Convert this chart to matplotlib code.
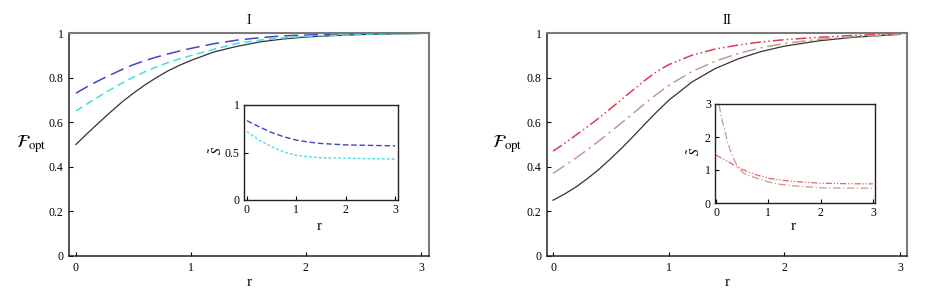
import matplotlib.pyplot as plt

plt.rcParams['font.family'] = 'Liberation Serif'
plt.rcParams['mathtext.fontset'] = 'stix'

# main panels: optimal fidelity vs r
r_main = [0, 0.1, 0.2, 0.3, 0.4, 0.5, 0.6, 0.7, 0.8, 0.9, 1.0,
          1.2, 1.4, 1.6, 1.8, 2.0, 2.3, 2.6, 3.0]
black_I = [0.5, 0.55, 0.598, 0.645, 0.69, 0.73, 0.767, 0.8, 0.83, 0.855, 0.877,
           0.915, 0.94, 0.96, 0.973, 0.982, 0.99, 0.995, 0.998]
blue_I = [0.73, 0.76, 0.787, 0.812, 0.836, 0.858, 0.876, 0.892, 0.906, 0.919, 0.931,
          0.952, 0.968, 0.979, 0.987, 0.991, 0.995, 0.997, 0.999]
cyan_I = [0.65, 0.683, 0.715, 0.746, 0.775, 0.802, 0.826, 0.848, 0.867, 0.884, 0.899,
          0.927, 0.953, 0.968, 0.978, 0.985, 0.991, 0.995, 0.998]
black_II = [0.25, 0.278, 0.31, 0.348, 0.39, 0.437, 0.487, 0.54, 0.595, 0.648, 0.698,
            0.78, 0.84, 0.884, 0.917, 0.941, 0.965, 0.981, 0.994]
red_II = [0.47, 0.505, 0.543, 0.58, 0.62, 0.662, 0.705, 0.748, 0.79, 0.828, 0.858,
          0.9, 0.928, 0.946, 0.96, 0.97, 0.981, 0.989, 0.996]
tan_II = [0.37, 0.405, 0.44, 0.478, 0.517, 0.558, 0.6, 0.643, 0.686, 0.727, 0.765,
          0.827, 0.873, 0.908, 0.934, 0.953, 0.972, 0.984, 0.994]

# insets: S tilde vs r
r_in_I = [0, 0.25, 0.5, 0.75, 1.0, 1.25, 1.5, 2.0, 2.5, 3.0]
blue_S = [0.835, 0.77, 0.71, 0.665, 0.63, 0.61, 0.595, 0.58, 0.575, 0.57]
cyan_S = [0.72, 0.63, 0.56, 0.505, 0.47, 0.455, 0.445, 0.44, 0.435, 0.43]
r_in_red = [0, 0.2, 0.4, 0.6, 0.8, 1.0, 1.25, 1.5, 2.0, 2.5, 3.0]
red_S = [1.45, 1.28, 1.1, 0.95, 0.84, 0.75, 0.69, 0.65, 0.6, 0.585, 0.58]
r_in_tan = [0.06, 0.1, 0.17, 0.22, 0.27, 0.35, 0.43, 0.55, 0.78, 1.0, 1.2, 1.5, 2.0, 2.5, 3.0]
tan_S = [2.97, 2.6, 2.2, 1.85, 1.6, 1.3, 1.05, 0.88, 0.75, 0.64, 0.57, 0.52, 0.46, 0.45, 0.45]

BLUE = '#4444c4'
CYAN = '#44dde6'
RED = '#e23a50'
TAN = '#c49c8c'
W, H = 926, 305


def box(x0, y0, x1, y1):
    return [x0 / W, (H - y1) / H, (x1 - x0) / W, (y1 - y0) / H]


def style_main(ax, title, xlim, ylab_x):
    ax.set_xlim(*xlim)
    ax.set_ylim(0, 1)
    ax.set_xticks([0, 1, 2, 3])
    ax.set_yticks([0, 0.2, 0.4, 0.6, 0.8, 1])
    ax.set_yticklabels(['0', '0.2', '0.4', '0.6', '0.8', '1'])
    ax.tick_params(direction='in', length=3, width=0.8, labelsize=8.5, pad=4)
    for s in ['left', 'bottom']:
        ax.spines[s].set_color('#222222')
        ax.spines[s].set_linewidth(1.1)
    for s in ['top', 'right']:
        ax.spines[s].set_color('#7a7a7a')
        ax.spines[s].set_linewidth(1.5)
    ax.set_ylabel(r'$\mathcal{F}_{\mathrm{opt}}$', rotation=0, fontsize=13,
                  ha='center', va='center')
    ax.yaxis.set_label_coords(ylab_x, 0.5)
    ax.set_xlabel('r', fontsize=11, va='center')
    ax.xaxis.set_label_coords(0.5, -0.121)
    ax.text(0.5, 1.058, title, transform=ax.transAxes, ha='center',
            va='center', fontsize=10)


def style_inset(ax, xlim, ylim, yticks, yticklabels, ylab_x, xlab_y):
    ax.set_xlim(*xlim)
    ax.set_ylim(*ylim)
    ax.set_xticks([0, 1, 2, 3])
    ax.set_yticks(yticks)
    ax.set_yticklabels(yticklabels)
    ax.tick_params(direction='in', length=3, width=0.8, labelsize=8.5, pad=3)
    for s in ax.spines.values():
        s.set_color('#222222')
        s.set_linewidth(1.0)
    ax.set_ylabel(r'$\tilde{S}$', fontsize=10, va='center')
    ax.yaxis.set_label_coords(ylab_x, 0.52)
    ax.set_xlabel('r', fontsize=11, va='center')
    ax.xaxis.set_label_coords(0.49, xlab_y)


fig = plt.figure(figsize=(W / 100, H / 100), dpi=100)

# panel I
ax1 = fig.add_axes(box(69, 33, 429, 256))
ax1.plot(r_main, black_I, color='#333333', lw=0.9)
ax1.plot(r_main, blue_I, color=BLUE, lw=1.1, dashes=(9, 4))
ax1.plot(r_main, cyan_I, color=CYAN, lw=1.1, dashes=(5, 3))
style_main(ax1, 'I', (-0.06, 3.07), -0.105)

in1 = fig.add_axes(box(244, 105, 398, 200))
in1.plot(r_in_I, blue_S, color=BLUE, lw=1.0, dashes=(4, 2))
in1.plot(r_in_I, cyan_S, color=CYAN, lw=1.0, dashes=(2, 1.5))
style_inset(in1, (-0.06, 3.06), (0, 1), [0, 0.5, 1], ['0', '0.5', '1'], -0.177, -0.28)

# panel II
ax2 = fig.add_axes(box(547, 33, 907, 256))
ax2.plot(r_main, black_II, color='#333333', lw=0.9)
ax2.plot(r_main, red_II, color=RED, lw=1.1, dashes=(7, 2, 1, 2, 1, 2))
ax2.plot(r_main, tan_II, color=TAN, lw=1.1, dashes=(9, 3, 1.5, 3))
style_main(ax2, 'II', (-0.052, 3.06), -0.112)

in2 = fig.add_axes(box(715, 104, 875, 203))
in2.plot(r_in_red, red_S, color=RED, lw=0.9, alpha=0.8, dashes=(5, 1.5, 1, 1.5, 1, 1.5))
in2.plot(r_in_tan, tan_S, color=TAN, lw=0.9, dashes=(6, 2, 1, 2))
style_inset(in2, (-0.02, 3.04), (0, 3), [0, 1, 2, 3], ['0', '1', '2', '3'], -0.125, -0.24)

fig.savefig('out.png', dpi=100)
